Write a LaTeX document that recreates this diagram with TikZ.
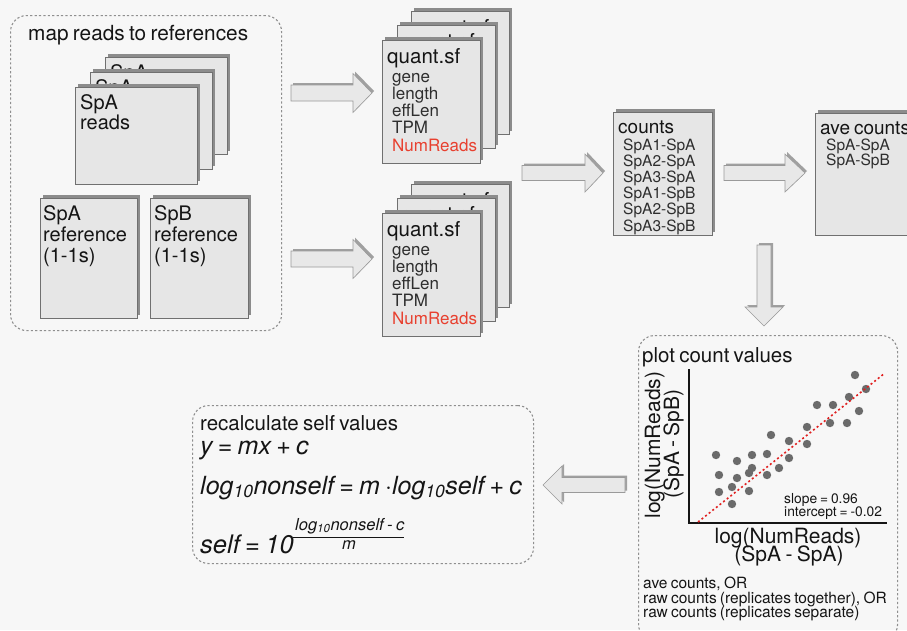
\documentclass[tikz,border=0pt]{standalone}
\usepackage{fontspec}
\setmainfont[WordSpace=0.75]{TeX Gyre Heros}
\usetikzlibrary{shadows}
\definecolor{bgc}{HTML}{F7F7F7}
\definecolor{boxfill}{HTML}{E6E6E6}
\definecolor{boxborder}{HTML}{707070}
\definecolor{shadowc}{HTML}{8C8C8C}
\definecolor{arrfill}{HTML}{E8E8E8}
\definecolor{arrborder}{HTML}{9A9A9A}
\definecolor{arrshc}{HTML}{A0A0A0}
\definecolor{dashc}{HTML}{8F8F8F}
\definecolor{redc}{HTML}{E8402F}
\definecolor{fitred}{HTML}{E02020}
\definecolor{dotc}{HTML}{6B6B6B}
\definecolor{txtc}{HTML}{151515}
\definecolor{itemc}{HTML}{2E2E2E}
\newcommand\fsz[1]{\fontsize{#1pt}{#1pt}\selectfont}
\tikzset{
  docbox/.style={draw=boxborder, fill=boxfill, line width=0.7pt, inner sep=0pt, anchor=north west,
    general shadow={fill=shadowc, shadow xshift=3pt, shadow yshift=3pt}},
  container/.style={draw=dashc, dash pattern=on 2.2pt off 2.2pt, line width=1.1pt,
    rounded corners=16pt, inner sep=0pt, anchor=north west},
  lbl/.style={anchor=base west, inner sep=0pt, text=txtc},
  arrbody/.style={fill=arrfill, draw=arrborder, line width=0.6pt,
    general shadow={fill=arrshc, shadow xshift=2pt, shadow yshift=2pt}},
}
% horizontal block arrow: x0, x head base, x tip, y centre, shaft half, head half
\newcommand\harr[6]{\filldraw[arrbody] (#1,#4-#5) -- (#2,#4-#5) -- (#2,#4-#6) -- (#3,#4) -- (#2,#4+#6) -- (#2,#4+#5) -- (#1,#4+#5) -- cycle;}
% vertical block arrow: x centre, y0, y head base, y tip, shaft half, head half
\newcommand\varr[6]{\filldraw[arrbody] (#1-#5,#2) -- (#1+#5,#2) -- (#1+#5,#3) -- (#1+#6,#3) -- (#1,#4) -- (#1-#6,#3) -- (#1-#5,#3) -- cycle;}
\newcommand\quantstack[2]{%
  \foreach \n/\dx/\dy in {3/29/29, 2/14.5/15}{
    \node[docbox, minimum width=98pt, minimum height=123pt] (#1box\n) at (382+\dx, #2-\dy) {};
    \node[lbl, font=\fsz{20.5}] (#1title\n) at (387+\dx, #2+23-\dy) {quant.sf};
  }
  \node[docbox, minimum width=98pt, minimum height=123pt] (#1box1) at (382, #2) {};
  \node[lbl, font=\fsz{20.5}] (#1title1) at (387, #2+23) {quant.sf};
  \foreach \t [count=\i] in {gene,length,effLen,TPM}
    \node[lbl, font=\fsz{17}, text=itemc] (#1item\i) at (392, #2+42+17.3*\i-17.3) {\t};
  \node[lbl, font=\fsz{17}, text=redc] (#1nr) at (392, #2+42+69.2) {NumReads};
}
\begin{document}
\begin{tikzpicture}[x=1pt, y=-1pt]
\useasboundingbox (0,0) rectangle (907,630);
\fill[bgc] (0,0) rectangle (907,630);

% ---------- map reads to references ----------
\node[container, minimum width=271pt, minimum height=315pt] (mapbox) at (10,15) {};
\node[lbl, font=\fsz{20.8}] (maptitle) at (28,40) {map reads to references};
\foreach \n/\d in {3/30, 2/15, 1/0}{
  \node[docbox, minimum width=122pt, minimum height=97pt] (reads\n) at (75+\d, 87-\d) {};
  \node[lbl, font=\fsz{20}] (readsA\n) at (80+\d, 109-\d) {SpA};
  \node[lbl, font=\fsz{20}] (readsB\n) at (80+\d, 129-\d) {reads};
}
\node[docbox, minimum width=97pt, minimum height=120pt] (refA) at (40,198) {};
\node[docbox, minimum width=98pt, minimum height=120pt] (refB) at (150,198) {};
\foreach \t [count=\i] in {SpA,reference,(1-1s)}
  \node[lbl, font=\fsz{20}] (refAt\i) at (43, 220+21*\i-21) {\t};
\foreach \t [count=\i] in {SpB,reference,(1-1s)}
  \node[lbl, font=\fsz{20}] (refBt\i) at (154, 220+21*\i-21) {\t};

% ---------- arrows to quant files ----------
\harr{291}{353}{372}{93}{8}{19.5}
\harr{291}{353}{372}{259}{8}{19.5}

% ---------- quant.sf stacks ----------
\quantstack{qa}{40}
\quantstack{qb}{213}

% ---------- counts ----------
\harr{522}{585}{603}{173}{7.5}{19}
\node[docbox, minimum width=99pt, minimum height=123pt] (counts) at (613,112) {};
\node[lbl, font=\fsz{19}] (countsT) at (618,133) {counts};
\foreach \t [count=\i] in {SpA1-SpA,SpA2-SpA,SpA3-SpA,SpA1-SpB,SpA2-SpB,SpA3-SpB}
  \node[lbl, font=\fsz{15.5}, text=itemc] (countsI\i) at (623, 150.5+16.1*\i-16.1) {\t};

\harr{724}{785}{805}{173}{7.5}{19}
\node[docbox, minimum width=99pt, minimum height=122pt] (ave) at (815,113) {};
\node[lbl, font=\fsz{19}] (aveT) at (820,134) {ave counts};
\node[lbl, font=\fsz{15.5}, text=itemc] (aveI1) at (826,150) {SpA-SpA};
\node[lbl, font=\fsz{15.5}, text=itemc] (aveI2) at (826,165.5) {SpA-SpB};

\varr{764}{245}{307}{326}{7}{19}

% ---------- plot count values ----------
\node[container, minimum width=259pt, minimum height=305pt] (plotbox) at (638,335) {};
\node[lbl, font=\fsz{20.5}] (plotT) at (642,362) {plot count values};
\draw[line width=1.8pt, txtc] (689,369) -- (689,523) -- (887,523);
\foreach \px/\py in {716/455, 719/475, 719/492, 732/487, 732/504, 737/461, 737/478,
  749/473, 749/491, 752/455, 752/468, 767/454, 767/475, 771/435, 779/468, 789/441,
  789/458, 807/427, 807/444, 817/405, 830/423, 833/405, 847/423, 849/397, 855/375,
  859/411, 866/389}
  \fill[dotc] (\px,\py) circle (4.2pt);
\draw[fitred, line width=1.6pt, dash pattern=on 2pt off 2.6pt] (698,522) -- (885,373);
\node[anchor=base, inner sep=0pt, rotate=90, font=\fsz{21}, text=txtc] (ylab1) at (660,445) {log(NumReads)};
\node[anchor=base, inner sep=0pt, rotate=90, font=\fsz{21}, text=txtc] (ylab2) at (679,444) {(SpA - SpB)};
\node[anchor=base, inner sep=0pt, font=\fsz{21}, text=txtc] (xlab1) at (788,543) {log(NumReads)};
\node[anchor=base, inner sep=0pt, font=\fsz{21}, text=txtc] (xlab2) at (789,561) {(SpA - SpA)};
\node[lbl, font=\fsz{13.8}] (slope) at (784,503) {slope = 0.96};
\node[lbl, font=\fsz{13.8}] (icpt) at (784,516) {intercept = -0.02};
\node[lbl, font=\fsz{15.5}] (note1) at (643,588) {ave counts, OR};
\node[lbl, font=\fsz{15.5}] (note2) at (643,603) {raw counts (replicates together), OR};
\node[lbl, font=\fsz{15.5}] (note3) at (643,617) {raw counts (replicates separate)};

% ---------- recalculate ----------
\harr{625}{562}{543}{485}{7.5}{19}
\node[container, minimum width=341pt, minimum height=158pt] (recalc) at (192,405) {};
\node[lbl, font=\fsz{20.5}] (recalcT) at (200,430) {recalculate self values};
\node[lbl, font=\fsz{25}\itshape] (eq1) at (200,454) {y = mx + c};
\node[lbl, font=\fsz{25}\itshape] (eq2) at (200,494) {log\textsubscript{10}nonself = m ·log\textsubscript{10}self + c};
\node[lbl, font=\fsz{25.5}\itshape] (eq3) at (200,553) {self = 10};
\node[lbl, font=\fsz{16.5}\itshape] (eq3num) at (295,530) {log\textsubscript{10}nonself - c};
\draw[txtc, line width=0.8pt] (293,537) -- (404,537);
\node[anchor=base, inner sep=0pt, font=\fsz{16.5}\itshape, text=txtc] (eq3den) at (349,549) {m};
\end{tikzpicture}
\end{document}
